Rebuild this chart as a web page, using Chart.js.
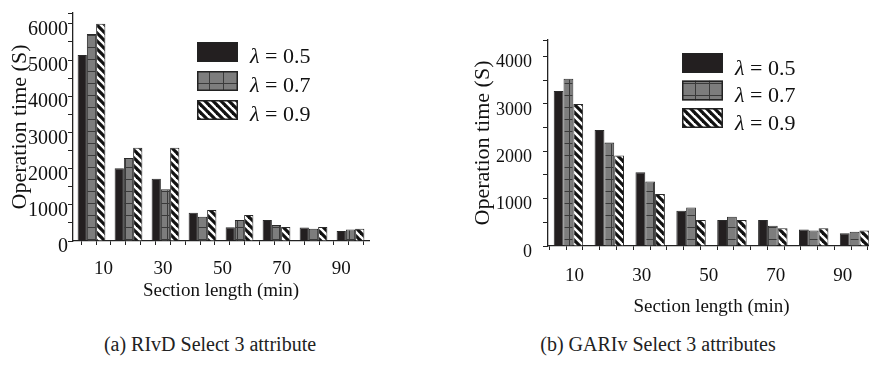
<!DOCTYPE html>
<html>
<head>
<meta charset="utf-8">
<script src="https://cdn.jsdelivr.net/npm/chart.js@4.4.0/dist/chart.umd.min.js"></script>
<style>
html,body{margin:0;padding:0;background:#fff;width:869px;height:367px;overflow:hidden;position:relative}
#wa{position:absolute;left:0;top:0;width:390px;height:320px}
#wb{position:absolute;left:430px;top:0;width:439px;height:320px;overflow:hidden}
.cap{position:absolute;top:333px;font-family:"Liberation Serif",serif;font-size:20px;color:#222;white-space:nowrap;transform:translateX(-50%)}
</style>
</head>
<body>
<div id="wa"><canvas id="ca" width="390" height="320"></canvas></div>
<div id="wb"><canvas id="cb" width="460" height="320"></canvas></div>
<div class="cap" style="left:210px">(a) RIvD Select 3 attribute</div>
<div class="cap" style="left:658px">(b) GARIv Select 3 attributes</div>
<script>
// ---- data ----
const sections = ['10', '20', '30', '40', '50', '60', '70', '80'];
const seriesLabels = ['λ = 0.5', 'λ = 0.7', 'λ = 0.9'];
const xTickLabels = [10, 30, 50, 70, 90];
const xTickMarks = [5, 10, 15, 20, 25, 30, 35, 40, 45, 50, 55, 60, 65, 70, 75, 80, 85, 90, 95];
const yTicksA = [0, 500, 1000, 1500, 2000, 2500, 3000, 3500, 4000, 4500, 5000, 5500, 6000, 6300];
const yTicksB = [0, 500, 1000, 1500, 2000, 2500, 3000, 3500, 4000, 4350];
const yLabelsA = [0, 1000, 2000, 3000, 4000, 5000, 6000];
const yLabelsB = [0, 1000, 2000, 3000, 4000];

const rivd05 = [5140, 2010, 1720, 780, 380, 580, 370, 275];
const rivd07 = [5720, 2290, 1430, 670, 580, 440, 340, 320];
const rivd09 = [6000, 2580, 2580, 855, 715, 385, 385, 340];

const gariv05 = [3275, 2450, 1555, 745, 550, 550, 350, 270];
const gariv07 = [3530, 2185, 1360, 815, 620, 430, 325, 300];
const gariv09 = [3000, 1910, 1100, 550, 550, 375, 375, 325];

// ---- patterns ----
function gridPattern() {
  const c = document.createElement('canvas'); c.width = 14; c.height = 12;
  const g = c.getContext('2d');
  g.fillStyle = '#7d7d7d'; g.fillRect(0, 0, 14, 12);
  g.fillStyle = '#3a3a3a'; g.fillRect(0, 11, 14, 1); g.fillRect(13, 0, 1, 12);
  return g.createPattern(c, 'repeat');
}
function hatchPattern() {
  const c = document.createElement('canvas'); c.width = 8; c.height = 8;
  const g = c.getContext('2d');
  g.fillStyle = '#fff'; g.fillRect(0, 0, 8, 8);
  g.strokeStyle = '#111'; g.lineWidth = 3.2;
  for (let k = -1; k <= 1; k++) {
    g.beginPath(); g.moveTo(k * 8 - 1, -1); g.lineTo(k * 8 + 9, 9); g.stroke();
  }
  return g.createPattern(c, 'repeat');
}
const fills = ['#231f20', gridPattern(), hatchPattern()];

const boxLegend = {
  id: 'boxLegend',
  afterDraw(chart, args, o) {
    const ctx = chart.ctx;
    chart.data.datasets.forEach((ds, i) => {
      const x = o.x, y = o.y + i * o.step;
      ctx.save();
      ctx.fillStyle = ds.backgroundColor;
      ctx.fillRect(x, y, o.w, o.h);
      ctx.lineWidth = 1.5; ctx.strokeStyle = '#222';
      ctx.strokeRect(x + 0.75, y + 0.75, o.w - 1.5, o.h - 1.5);
      ctx.fillStyle = '#111'; ctx.textBaseline = 'middle'; ctx.textAlign = 'left';
      const ty = y + o.h / 2 + o.dy;
      const sym = ds.label.charAt(0), rest = ds.label.slice(1);
      ctx.font = 'italic ' + o.size + 'px "Liberation Serif"';
      ctx.fillText(sym, o.tx, ty);
      const w = ctx.measureText(sym).width;
      ctx.font = o.size + 'px "Liberation Serif"';
      ctx.fillText(rest, o.tx + w, ty);
      ctx.restore();
    });
  }
};

Chart.defaults.font.family = '"Liberation Serif", serif';
Chart.defaults.color = '#111';

function makeChart(id, vals, cfg) {
  const datasets = vals.map((v, i) => ({
    label: seriesLabels[i],
    data: v,
    backgroundColor: fills[i],
    borderColor: '#2a2a2a',
    borderWidth: 1,
    categoryPercentage: cfg.catPct,
    barPercentage: 1.0
  }));
  return new Chart(document.getElementById(id), {
    type: 'bar',
    data: { labels: sections, datasets },
    plugins: [boxLegend],
    options: {
      responsive: false,
      animation: false,
      devicePixelRatio: 1,
      layout: { padding: { left: 0, top: cfg.padTop, right: cfg.padRight, bottom: 0 } },
      plugins: {
        legend: { display: false },
        tooltip: { enabled: false },
        boxLegend: cfg.legend
      },
      scales: {
        x: { type: 'category', display: false },
        x2: {
          type: 'linear', position: 'bottom', min: cfg.xMin, max: cfg.xMax,
          afterFit: s => { s.height = cfg.xHeight; },
          afterBuildTicks: s => { s.ticks = xTickMarks.map(v => ({ value: v })); },
          grid: { display: true, drawOnChartArea: false, drawTicks: true, tickLength: 4, color: '#222' },
          border: { display: true, color: '#222', width: 1.3 },
          ticks: {
            autoSkip: false, maxRotation: 0, padding: cfg.xTickPad,
            font: { size: 19 }, color: '#111',
            callback: v => xTickLabels.includes(v) ? String(v) : ''
          },
          title: { display: true, text: 'Section length (min)', font: { size: 19 }, color: '#111',
                   padding: { top: 0, bottom: cfg.xTitlePad } }
        },
        y: {
          type: 'linear', position: 'left', min: 0, max: cfg.yMax,
          afterFit: s => { s.width = cfg.yWidth; },
          afterBuildTicks: s => { s.ticks = cfg.yTicks.map(v => ({ value: v })); },
          grid: { display: true, drawOnChartArea: false, drawTicks: true, tickLength: 5, color: '#222' },
          border: { display: true, color: '#222', width: 1.3 },
          ticks: {
            autoSkip: false, padding: cfg.yTickPad, labelOffset: 6,
            font: { size: cfg.yFont }, color: '#111',
            callback: v => cfg.yLabels.includes(v) ? String(v) : ''
          },
          title: { display: true, text: 'Operation time (S)', font: { size: 22 }, color: '#111',
                   padding: { top: cfg.yTitlePad, bottom: 0 } }
        }
      }
    }
  });
}

makeChart('ca', [rivd05, rivd07, rivd09], {
  catPct: 0.75, padTop: 13, padRight: 21, xMin: 2.35, xMax: 96.7, xHeight: 79,
  xTickPad: 13, xTitlePad: 18, yMax: 6300, yTicks: yTicksA, yLabels: yLabelsA,
  yWidth: 73, yTickPad: 0, yFont: 20, yTitlePad: 7,
  legend: { x: 197, y: 42, step: 29, w: 41, h: 20, tx: 250, dy: 5, size: 22 }
});
makeChart('cb', [gariv05, gariv07, gariv09], {
  catPct: 0.72, padTop: 40, padRight: 15, xMin: 4.63, xMax: 97.07, xHeight: 74,
  xTickPad: 15, xTitlePad: 2, yMax: 4350, yTicks: yTicksB, yLabels: yLabelsB,
  yWidth: 118, yTickPad: 11, yFont: 18, yTitlePad: 40,
  legend: { x: 252, y: 53, step: 27.5, w: 41, h: 20, tx: 305, dy: 6, size: 22 }
});
</script>
</body>
</html>
